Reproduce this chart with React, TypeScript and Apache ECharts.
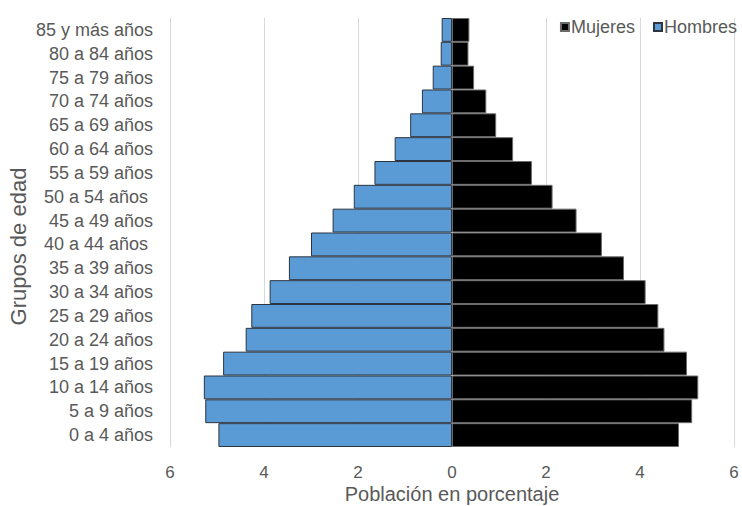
import React, { useEffect, useRef } from "react";
import * as echarts from "echarts";

const categories = [
  "0 a 4 años",
  "5 a 9 años",
  "10 a 14 años",
  "15 a 19 años",
  "20 a 24 años",
  "25 a 29 años",
  "30 a 34 años",
  "35 a 39 años",
  "40 a 44 años ",
  "45 a 49 años",
  "50 a 54 años ",
  "55 a 59 años",
  "60 a 64 años",
  "65 a 69 años",
  "70 a 74 años",
  "75 a 79 años",
  "80 a 84 años",
  "85 y más años",
];

const hombres = [4.97, 5.25, 5.28, 4.87, 4.39, 4.27, 3.88, 3.47, 3.0, 2.54, 2.09, 1.65, 1.22, 0.89, 0.64, 0.41, 0.24, 0.22];
const mujeres = [4.83, 5.11, 5.24, 5.0, 4.52, 4.39, 4.12, 3.66, 3.19, 2.65, 2.14, 1.7, 1.3, 0.94, 0.73, 0.47, 0.35, 0.37];

const xTicks = { min: -6, max: 6, interval: 2 };

const FONT = "'Liberation Sans', Arial, sans-serif";
const GRAY = "#595959";

export default function App() {
  const ref = useRef<HTMLDivElement>(null);
  useEffect(() => {
    if (!ref.current) return;
    const chart = echarts.init(ref.current, null, { renderer: "svg" });
    chart.setOption({
      animation: false,
      textStyle: { fontFamily: FONT },
      grid: { left: 170, right: 8, top: 18, bottom: 59, containLabel: false, outerBoundsMode: "none" },
      legend: {
        data: ["Mujeres", "Hombres"],
        right: 0,
        top: 13,
        icon: "rect",
        itemWidth: 8,
        itemHeight: 8,
        itemGap: 18,
        textStyle: { fontSize: 18, color: GRAY, fontFamily: FONT, padding: [0, 0, 0, -3] },
      },
      xAxis: {
        type: "value",
        min: xTicks.min,
        max: xTicks.max,
        interval: xTicks.interval,
        axisLine: { show: false },
        axisTick: { show: false },
        splitLine: { lineStyle: { color: "#d9d9d9", width: 1 } },
        axisLabel: {
          fontSize: 17,
          color: GRAY,
          margin: 16,
          lineHeight: 18,
          formatter: (v: number) => String(Math.abs(v)),
        },
        name: "Población en porcentaje",
        nameLocation: "middle",
        nameGap: 37,
        nameMoveOverlap: false,
        nameTextStyle: { fontSize: 20, color: GRAY, lineHeight: 20 },
      },
      yAxis: {
        type: "category",
        data: categories,
        axisLine: { show: false },
        axisTick: { show: false },
        axisLabel: { fontSize: 18, color: GRAY, margin: 17 },
        name: "Grupos de edad",
        nameLocation: "middle",
        nameRotate: 90,
        nameGap: 141,
        nameMoveOverlap: false,
        nameTextStyle: { fontSize: 22, color: GRAY, padding: [0, 28, 0, 0] },
      },
      series: [
        {
          name: "Hombres",
          type: "bar",
          stack: "total",
          barCategoryGap: 0,
          barGap: "-100%",
          itemStyle: { color: "#5B9BD5", borderColor: "#2b3440", borderWidth: 1 },
          data: hombres.map((v) => -v),
        },
        {
          name: "Mujeres",
          type: "bar",
          stack: "total",
          barCategoryGap: 0,
          barGap: "-100%",
          itemStyle: { color: "#000000", borderColor: "#6b6b6b", borderWidth: 1 },
          data: mujeres,
        },
      ],
    });
    return () => chart.dispose();
  }, []);
  return (
    <div
      ref={ref}
      style={{ position: "fixed", left: 0, top: 0, width: 742, height: 506, background: "#fff" }}
    />
  );
}
